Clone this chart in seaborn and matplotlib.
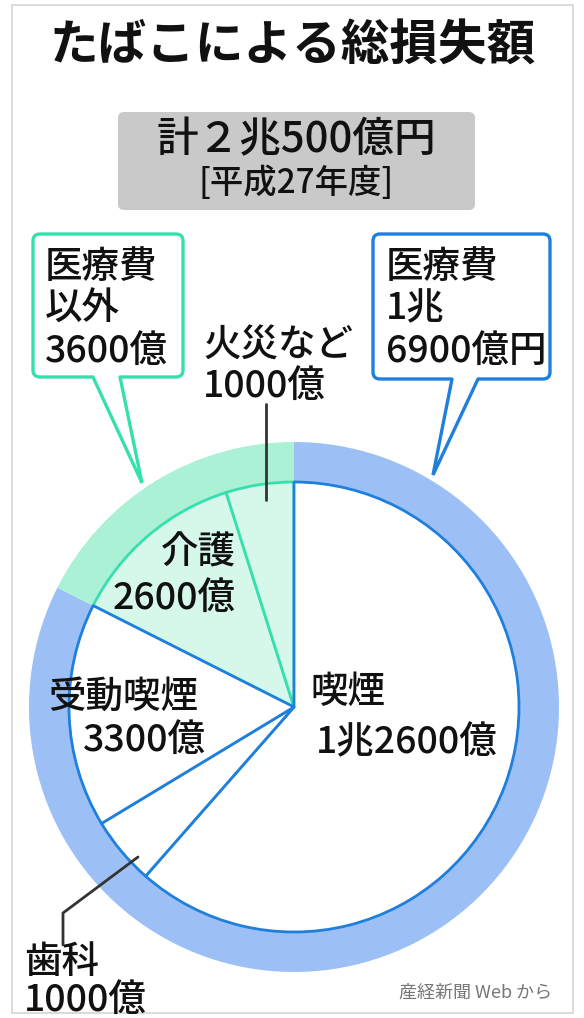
import matplotlib
matplotlib.use("Agg")
import matplotlib.pyplot as plt
from matplotlib.patches import FancyBboxPatch, Rectangle
import seaborn as sns

# ---------------- data ----------------
title = "たばこによる総損失額"
total_label = "計２兆500億円"
year_label = "[平成27年度]"
categories = ["喫煙", "歯科", "受動喫煙", "介護", "火災など"]
values = [12600, 1000, 3300, 2600, 1000]
groups = ["医療費", "医療費以外"]
group_values = [16900, 3600]
source = "産経新聞 Web から"

sns.set_theme(style="white")
plt.rcParams["font.family"] = ["Noto Sans CJK JP", "DejaVu Sans"]

W, H = 584, 1018
fig = plt.figure(figsize=(W / 100, H / 100), dpi=100)
ax = fig.add_axes([0, 0, 1, 1])

def Y(p):
    return H - p

def fmt(v):
    if v >= 10000:
        return f"{v // 10000}兆{v % 10000}億"
    return f"{v}億"

RING_BLUE = "#9cc0f6"
RING_GREEN = "#aaf1d6"
FILL_GREEN = "#d6f8eb"
LINE_BLUE = "#1f7fdc"
LINE_GREEN = "#36e0ad"
TXT = "#111111"
WT = "medium"

cx, cy = 294, Y(707)
R_OUT, R_IN = 265, 225

# outer ring
ring, _ = ax.pie(group_values, colors=[RING_BLUE, RING_GREEN], startangle=90,
                 counterclock=False, center=(cx, cy), radius=R_OUT,
                 wedgeprops=dict(width=R_OUT - R_IN, linewidth=0))
for w in ring:
    w.set_zorder(1)

# inner pie
in_group = ["医療費", "医療費", "医療費", "医療費以外", "医療費以外"]
fills = ["white" if g == "医療費" else FILL_GREEN for g in in_group]
wedges, _ = ax.pie(values, colors=fills, startangle=90, counterclock=False,
                   center=(cx, cy), radius=R_IN,
                   wedgeprops=dict(linewidth=2.0, joinstyle="round"))
for w, g in zip(wedges, in_group):
    if g == "医療費":
        w.set_edgecolor(LINE_BLUE)
        w.set_zorder(3)
    else:
        w.set_edgecolor(LINE_GREEN)
        w.set_zorder(2)

ax.set_xlim(0, W)
ax.set_ylim(0, H)
ax.set_aspect("equal")
ax.axis("off")

# frame
ax.add_patch(Rectangle((12, Y(1013)), 561, 1008, fill=False, edgecolor="#d4d4d4", lw=1.2, zorder=0))

# title
ax.text(293, Y(46), title, fontsize=35, ha="center", va="center", color=TXT, fontweight="bold")

# gray total box
ax.add_patch(FancyBboxPatch((118, Y(210)), 357, 98, boxstyle="round,pad=0,rounding_size=6",
                            facecolor="#c9c9c9", edgecolor="none", zorder=1))
ax.text(296, Y(140), total_label, fontsize=30, ha="center", va="center", color=TXT,
        fontweight=WT, zorder=2)
ax.text(296, Y(183), year_label, fontsize=24, ha="center", va="center", color=TXT,
        fontweight=WT, zorder=2)

# callout boxes
def callout(x0, x1, y0, y1, p0, p1, tip, color):
    ax.add_patch(FancyBboxPatch((x0, Y(y1)), x1 - x0, y1 - y0,
                                boxstyle="round,pad=0,rounding_size=7",
                                facecolor="white", edgecolor=color, lw=2.4, zorder=4))
    ax.fill([p0, tip[0], p1], [Y(y1 - 1.5), Y(tip[1]), Y(y1 - 1.5)], color="white", zorder=5)
    ax.plot([p0, tip[0], p1], [Y(y1), Y(tip[1]), Y(y1)], color=color, lw=2.4, zorder=6,
            solid_joinstyle="miter")

callout(33, 183, 234, 377, 93, 120, (142, 483), LINE_GREEN)
callout(373, 550, 234, 379, 452, 478, (433, 475), LINE_BLUE)

lab_fs = 27
kw = dict(fontsize=lab_fs, va="center", color=TXT, fontweight=WT, zorder=7)
ax.text(45, Y(267), groups[0], ha="left", **kw)
ax.text(45, Y(308), groups[1][3:], ha="left", **kw)
ax.text(45, Y(351), fmt(group_values[1]), ha="left", **kw)
g0 = fmt(group_values[0]) + "円"
ax.text(386, Y(267), groups[0], ha="left", **kw)
ax.text(386, Y(308), g0.split("兆")[0] + "兆", ha="left", **kw)
ax.text(386, Y(351), g0.split("兆")[1], ha="left", **kw)

# inner labels
ax.text(203, Y(345), categories[4], ha="left", **kw)
ax.text(203, Y(386), fmt(values[4]), ha="left", **kw)
ax.plot([266, 266], [Y(404), Y(500)], color="#333333", lw=2, zorder=7)

ax.text(236, Y(552), categories[3], ha="right", **kw)
ax.text(236, Y(598), fmt(values[3]), ha="right", **kw)

ax.text(48, Y(697), categories[2], ha="left", **kw)
ax.text(206, Y(740), fmt(values[2]), ha="right", **kw)

ax.text(310, Y(692), categories[0], ha="left", **kw)
ax.text(316, Y(742), fmt(values[0]), ha="left", **kw)

ax.text(24, Y(962), categories[1], ha="left", **kw)
ax.text(24, Y(1000), fmt(values[1]), ha="left", **kw)
ax.plot([63, 63, 138], [Y(945), Y(913), Y(857)], color="#333333", lw=2, zorder=7)

ax.text(552, Y(993), source, fontsize=13, va="center", ha="right", color="#777777", zorder=7)

fig.savefig("out.png", dpi=100, facecolor="white")
